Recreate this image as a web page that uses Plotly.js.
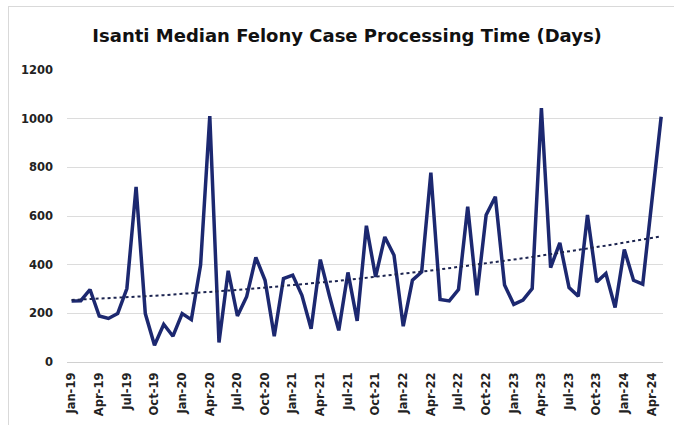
<!DOCTYPE html>
<html>
<head>
<meta charset="utf-8">
<script src="https://cdn.plot.ly/plotly-3.0.1.min.js"></script>
<style>
html,body{margin:0;padding:0;background:#fff;}
#wrap{position:relative;width:674px;height:425px;overflow:hidden;}
#chart{width:674px;height:425px;}
#frame{position:absolute;left:8px;top:6px;width:700px;height:500px;border:1px solid #d9d9d9;pointer-events:none;}
</style>
</head>
<body>
<div id="wrap"><div id="chart"></div><div id="frame"></div></div>
<script>
const months = [
 "Jan-19","Feb-19","Mar-19","Apr-19","May-19","Jun-19","Jul-19","Aug-19","Sep-19","Oct-19","Nov-19","Dec-19",
 "Jan-20","Feb-20","Mar-20","Apr-20","May-20","Jun-20","Jul-20","Aug-20","Sep-20","Oct-20","Nov-20","Dec-20",
 "Jan-21","Feb-21","Mar-21","Apr-21","May-21","Jun-21","Jul-21","Aug-21","Sep-21","Oct-21","Nov-21","Dec-21",
 "Jan-22","Feb-22","Mar-22","Apr-22","May-22","Jun-22","Jul-22","Aug-22","Sep-22","Oct-22","Nov-22","Dec-22",
 "Jan-23","Feb-23","Mar-23","Apr-23","May-23","Jun-23","Jul-23","Aug-23","Sep-23","Oct-23","Nov-23","Dec-23",
 "Jan-24","Feb-24","Mar-24","Apr-24","May-24"
];
const medianDays = [
 251,252,298,189,179,199,302,720,199,69,155,106,
 199,174,398,1011,80,375,189,268,430,336,106,343,
 357,274,137,421,270,130,368,169,560,350,514,439,
 147,336,370,778,257,251,298,638,274,604,679,316,
 237,254,302,1043,388,490,306,270,604,329,364,224,
 462,336,320,650,1008
];
const tickLabels = ["Jan-19","Apr-19","Jul-19","Oct-19","Jan-20","Apr-20","Jul-20","Oct-20","Jan-21","Apr-21","Jul-21","Oct-21","Jan-22","Apr-22","Jul-22","Oct-22","Jan-23","Apr-23","Jul-23","Oct-23","Jan-24","Apr-24"];
const yTicks = [0,200,400,600,800,1000,1200];

// Polynomial (order 2) least-squares trendline fitted to the data
function quadFit(vals){
  const n = vals.length, c = (n-1)/2;
  let S=[0,0,0,0,0], T=[0,0,0];
  vals.forEach((v,i)=>{const t=i-c; let p=1; for(let k=0;k<5;k++){S[k]+=p; if(k<3) T[k]+=v*p; p*=t;}});
  const M=[[S[0],S[1],S[2],T[0]],[S[1],S[2],S[3],T[1]],[S[2],S[3],S[4],T[2]]];
  for(let i=0;i<3;i++){for(let j=i+1;j<3;j++){const f=M[j][i]/M[i][i]; for(let k=i;k<4;k++) M[j][k]-=f*M[i][k];}}
  const x=[0,0,0];
  for(let i=2;i>=0;i--){let s=M[i][3]; for(let k=i+1;k<3;k++) s-=M[i][k]*x[k]; x[i]=s/M[i][i];}
  return vals.map((v,i)=>{const t=i-c; return x[0]+x[1]*t+x[2]*t*t;});
}
const trend = quadFit(medianDays);

const navy = "#1c2870";
const data = [
 {x: months, y: medianDays, type: "scatter", mode: "lines", line: {color: navy, width: 3.5}},
 {x: months, y: trend, type: "scatter", mode: "lines", line: {color: "#1c2450", width: 2, dash: "dot"}}
];
const tickFont = {family: "DejaVu Sans, sans-serif", size: 11.5, color: "#222", weight: "bold"};
const layout = {
 width: 674, height: 425,
 margin: {l: 67, r: 11, t: 70, b: 63.3},
 paper_bgcolor: "#fff", plot_bgcolor: "#fff",
 showlegend: false,
 title: {text: "Isanti Median Felony Case Processing Time (Days)", x: 0.515, xanchor: "center", y: 0.915, yanchor: "middle",
   font: {family: "DejaVu Sans, sans-serif", size: 18, color: "#111", weight: "bold"}},
 xaxis: {type: "category", range: [-0.5, 64.2], tickmode: "array", tickvals: tickLabels, ticktext: tickLabels,
   tickangle: -90, tickfont: {family: "DejaVu Sans, sans-serif", size: 11.5, color: "#222", weight: "bold"},
   showgrid: false, showline: true, linecolor: "#d0d0d0", linewidth: 1,
   ticks: "", ticklabelstandoff: 5, zeroline: false, fixedrange: true},
 yaxis: {range: [0, 1200], tickmode: "array", tickvals: yTicks, ticktext: yTicks.map(String), tickfont: tickFont,
   showgrid: true, gridcolor: "#dcdcdc", gridwidth: 1, zeroline: false, showline: false, ticks: "",
   ticklabelstandoff: 13, fixedrange: true}
};
Plotly.newPlot("chart", data, layout, {displayModeBar: false, staticPlot: true});
</script>
</body>
</html>
